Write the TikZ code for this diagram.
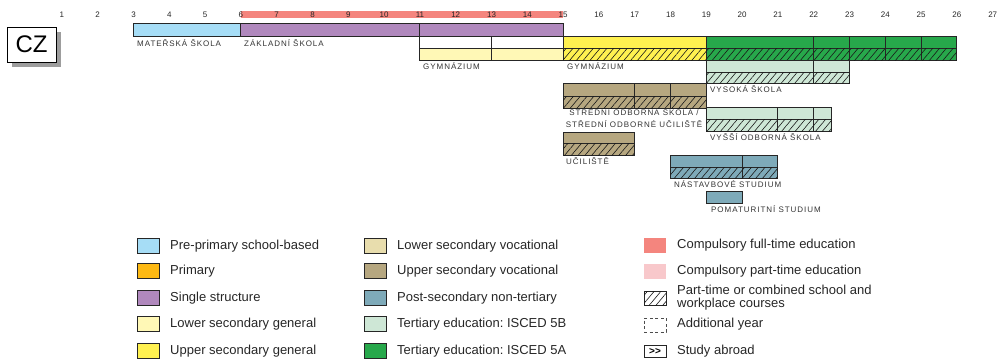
\documentclass[tikz,border=0pt]{standalone}
\usepackage{fontspec}
\setmainfont{Liberation Sans}
\newfontfamily\labfont[LetterSpace=12]{Liberation Sans}
\usetikzlibrary{patterns.meta}
\frenchspacing
\definecolor{cPre}{HTML}{A6DDF6}
\definecolor{cPrim}{HTML}{FDB913}
\definecolor{cSingle}{HTML}{B088BD}
\definecolor{cLowGen}{HTML}{FFF8B6}
\definecolor{cUpGen}{HTML}{FFF150}
\definecolor{cLowVoc}{HTML}{E8DDAD}
\definecolor{cUpVoc}{HTML}{B6A780}
\definecolor{cPost}{HTML}{7EAAB9}
\definecolor{cTerB}{HTML}{CEE7D6}
\definecolor{cTerA}{HTML}{27A84B}
\definecolor{cComp}{HTML}{F4857E}
\definecolor{cPart}{HTML}{F8C8CB}
\definecolor{cShadow}{HTML}{9D9D9D}
\tikzset{
  bx/.style={draw=black!85, line width=0.9pt},
  hatch/.style={postaction={pattern={Lines[angle=50,distance=5.2pt,line width=0.6pt]}, pattern color=black!90}},
  lab/.style={font=\labfont\fontsize{8}{9}\selectfont, anchor=west, inner sep=0pt, text=black!80},
  num/.style={font=\fontsize{8}{9}\selectfont, inner sep=0pt, text=black!85},
  leg/.style={font=\fontsize{13}{14}\selectfont, anchor=west, inner sep=0pt, text=black!85},
  legbox/.style={minimum width=22pt, minimum height=15pt, inner sep=0pt}
}
\newcommand\cell[5]{\draw[bx,fill=#5] (#1,#3) rectangle (#2,#4);}
\newcommand\hcell[5]{\draw[bx,fill=#5,hatch] (#1,#3) rectangle (#2,#4);}
\begin{document}
\begin{tikzpicture}[x=1pt,y=-1pt]
\useasboundingbox (0,0) rectangle (998,359);
% CZ box
\fill[cShadow] (12,32) rectangle (61,67);
\node[draw=black, line width=0.9pt, fill=white, minimum width=49pt, minimum height=35pt, inner sep=0pt, font=\fontsize{24}{24}\selectfont] (cz) at (31.5,44.5) {CZ};
\begin{scope}[x=35.8pt, xshift=26.1pt]
  % compulsory bar
  \fill[cComp] (6,11) rectangle (15,18);
  % scale numbers
  \foreach \n in {1,...,27} { \node[num] (n\n) at (\n,15) {\n}; }
  % main row
  \cell{3}{6}{23}{36}{cPre}
  \cell{6}{11}{23}{36}{cSingle}
  \cell{11}{15}{23}{36}{cSingle}
  % lower secondary gymnazium
  \cell{11}{13}{36}{48}{white}
  \cell{13}{15}{36}{48}{white}
  \cell{11}{13}{48}{60}{cLowGen}
  \cell{13}{15}{48}{60}{cLowGen}
  % upper secondary gymnazium
  \cell{15}{19}{36}{48}{cUpGen}
  \hcell{15}{19}{48}{60}{cUpGen}
  % tertiary 5A
  \cell{19}{22}{36}{48}{cTerA}
  \foreach \a/\b in {22/23,23/24,24/25,25/26} { \cell{\a}{\b}{36}{48}{cTerA} }
  \hcell{19}{22}{48}{60}{cTerA}
  \foreach \a/\b in {22/23,23/24,24/25,25/26} { \hcell{\a}{\b}{48}{60}{cTerA} }
  % tertiary 5B (vysoka)
  \cell{19}{22}{60}{72}{cTerB}
  \cell{22}{23}{60}{72}{cTerB}
  \hcell{19}{22}{72}{83}{cTerB}
  \hcell{22}{23}{72}{83}{cTerB}
  % upper secondary vocational
  \cell{15}{17}{83}{96}{cUpVoc}
  \cell{17}{18}{83}{96}{cUpVoc}
  \cell{18}{19}{83}{96}{cUpVoc}
  \hcell{15}{17}{96}{108}{cUpVoc}
  \hcell{17}{18}{96}{108}{cUpVoc}
  \hcell{18}{19}{96}{108}{cUpVoc}
  % vyssi odborna skola
  \cell{19}{21}{107}{119}{cTerB}
  \cell{21}{22}{107}{119}{cTerB}
  \cell{22}{22.5}{107}{119}{cTerB}
  \hcell{19}{21}{119}{131}{cTerB}
  \hcell{21}{22}{119}{131}{cTerB}
  \hcell{22}{22.5}{119}{131}{cTerB}
  % uciliste
  \cell{15}{17}{132}{143}{cUpVoc}
  \hcell{15}{17}{143}{155}{cUpVoc}
  % nastavbove studium
  \cell{18}{20}{155}{167}{cPost}
  \cell{20}{21}{155}{167}{cPost}
  \hcell{18}{20}{167}{178}{cPost}
  \hcell{20}{21}{167}{178}{cPost}
  % pomaturitni studium
  \cell{19}{20}{191}{203}{cPost}
\end{scope}
% bar labels
\node[lab] (l1) at (137,43) {MATEŘSKÁ ŠKOLA};
\node[lab] (l2) at (244,43) {ZÁKLADNÍ ŠKOLA};
\node[lab] (l3) at (423,66) {GYMNÁZIUM};
\node[lab] (l4) at (567,66) {GYMNÁZIUM};
\node[lab] (l5) at (710,89) {VYSOKÁ ŠKOLA};
\node[lab, anchor=center, align=center, font=\labfont\fontsize{8}{12}\selectfont] (l6) at (634,118) {STŘEDNÍ ODBORNÁ ŠKOLA /\\STŘEDNÍ ODBORNÉ UČILIŠTĚ};
\node[lab] (l7) at (710,137) {VYŠŠÍ ODBORNÁ ŠKOLA};
\node[lab] (l8) at (566,161) {UČILIŠTĚ};
\node[lab] (l9) at (674,184) {NÁSTAVBOVÉ STUDIUM};
\node[lab] (l10) at (711,209) {POMATURITNÍ STUDIUM};
% legend column 1
\node[legbox, bx, fill=cPre] (k1) at (148,246) {};
\node[leg] (t1) at (170,246) {Pre-primary school-based};
\node[legbox, bx, fill=cPrim] (k2) at (148,271) {};
\node[leg] (t2) at (170,271) {Primary};
\node[legbox, bx, fill=cSingle] (k3) at (148,298) {};
\node[leg] (t3) at (170,298) {Single structure};
\node[legbox, bx, fill=cLowGen] (k4) at (148,324) {};
\node[leg] (t4) at (170,324) {Lower secondary general};
\node[legbox, bx, fill=cUpGen] (k5) at (148,351) {};
\node[leg] (t5) at (170,351) {Upper secondary general};
% legend column 2
\node[legbox, bx, fill=cLowVoc] (k6) at (375.5,246) {};
\node[leg] (t6) at (397,246) {Lower secondary vocational};
\node[legbox, bx, fill=cUpVoc] (k7) at (375.5,271) {};
\node[leg] (t7) at (397,271) {Upper secondary vocational};
\node[legbox, bx, fill=cPost] (k8) at (375.5,298) {};
\node[leg] (t8) at (397,298) {Post-secondary non-tertiary};
\node[legbox, bx, fill=cTerB] (k9) at (375.5,324) {};
\node[leg] (t9) at (397,324) {Tertiary education: ISCED 5B};
\node[legbox, bx, fill=cTerA] (k10) at (375.5,351) {};
\node[leg] (t10) at (397,351) {Tertiary education: ISCED 5A};
% legend column 3
\node[legbox, fill=cComp] (k11) at (655,245) {};
\node[leg] (t11) at (677,245) {Compulsory full-time education};
\node[legbox, fill=cPart] (k12) at (655,271) {};
\node[leg] (t12) at (677,271) {Compulsory part-time education};
\node[legbox, minimum height=14pt, bx, fill=white, hatch] (k13) at (655,298) {};
\node[leg, align=left, font=\fontsize{13}{12.5}\selectfont] (t13) at (677,297.5) {Part-time or combined school and\\workplace courses};
\node[legbox, minimum height=14pt, draw=black!70, line width=0.8pt, dash pattern=on 3pt off 2.5pt] (k14) at (655,325) {};
\node[leg] (t14) at (677,324) {Additional year};
\node[bx, minimum width=22pt, minimum height=12pt, inner sep=0pt, font=\bfseries\fontsize{10}{10}\selectfont] (k15) at (655,351) {>{}>};
\node[leg] (t15) at (677,351) {Study abroad};
\end{tikzpicture}
\end{document}
